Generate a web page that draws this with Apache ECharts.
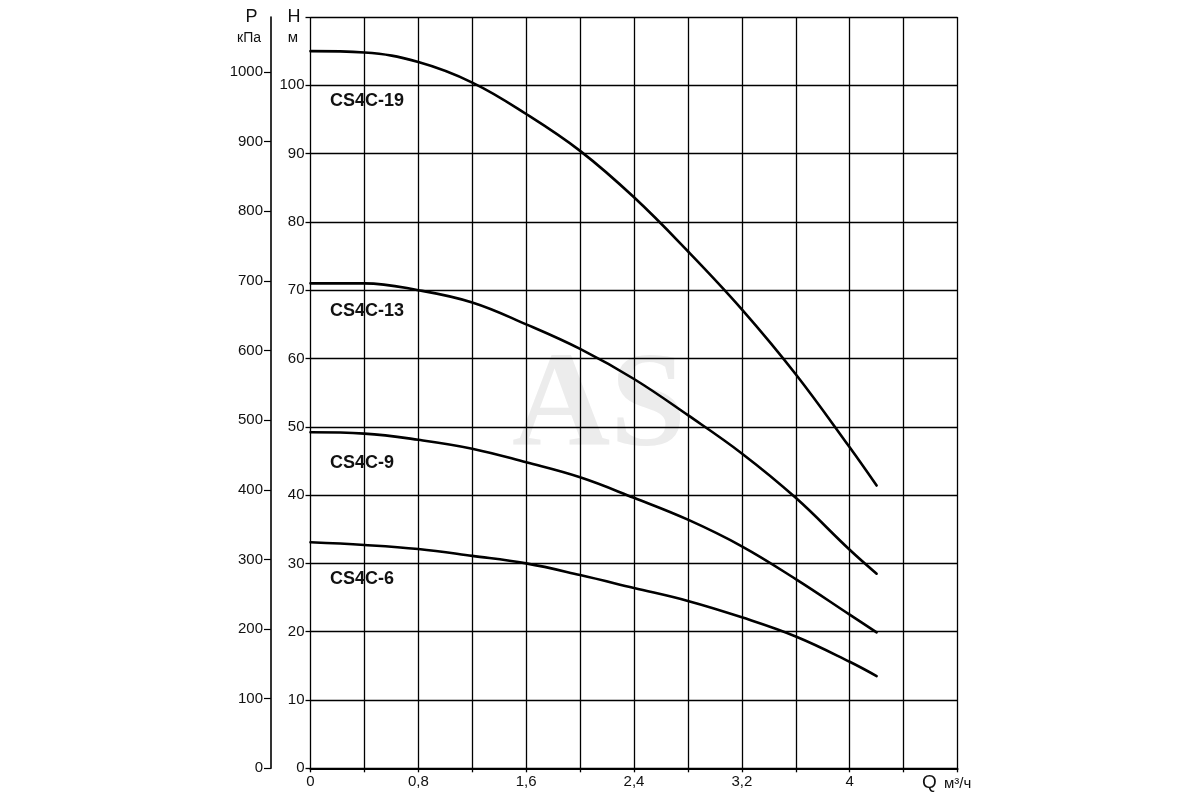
<!DOCTYPE html>
<html><head><meta charset="utf-8">
<script src="https://cdn.jsdelivr.net/npm/echarts@6/dist/echarts.min.js"></script>
<style>html,body{margin:0;padding:0;background:#fff}#c{width:1200px;height:800px}</style>
</head><body><div id="c"></div>
<script>
// Flow Q, m³/h
const flowQ = [0, 0.4, 0.8, 1.2, 1.6, 2.0, 2.4, 2.8, 3.2, 3.6, 4.0, 4.2];
// Head H, m
const headCS4C19 = [105.0, 104.8, 103.4, 100.4, 95.8, 90.4, 83.6, 75.7, 67.2, 57.7, 47.0, 41.4];
const headCS4C13 = [71.0, 71.0, 70.0, 68.2, 65.0, 61.4, 57.0, 51.7, 46.1, 39.6, 32.0, 28.5];
const headCS4C9  = [49.2, 49.0, 48.1, 46.8, 44.8, 42.6, 39.6, 36.4, 32.5, 27.7, 22.5, 19.9];
const headCS4C6  = [33.1, 32.7, 32.1, 31.1, 30.0, 28.3, 26.4, 24.5, 22.1, 19.3, 15.6, 13.5];
const seriesNames = ['CS4C-19', 'CS4C-13', 'CS4C-9', 'CS4C-6'];
const xTickLabels = [0, 0.8, 1.6, 2.4, 3.2, 4];
const pTickLabels = [0, 100, 200, 300, 400, 500, 600, 700, 800, 900, 1000];
const hTickLabels = [0, 10, 20, 30, 40, 50, 60, 70, 80, 90, 100];

const FONT = '"Liberation Sans", Arial, Helvetica, sans-serif';
const chart = echarts.init(document.getElementById('c'));
const heads = [headCS4C19, headCS4C13, headCS4C9, headCS4C6];

const option = {
  backgroundColor: '#fff',
  animation: false,
  grid: { left: 310.5, right: 242.5, top: 17, bottom: 31.7 },
  xAxis: {
    type: 'value', min: 0, max: 4.8, interval: 0.4,
    axisLine: { show: true, lineStyle: { color: '#000', width: 2.2 } },
    axisTick: { show: true, length: 4, lineStyle: { color: '#000', width: 1.3 } },
    axisLabel: {
      customValues: xTickLabels,
      formatter: v => String(v).replace('.', ','),
      color: '#111', fontFamily: FONT, fontSize: 15, margin: 6
    },
    splitLine: { show: true, lineStyle: { color: '#000', width: 1.3 } }
  },
  yAxis: [
    {
      type: 'value', min: 0, max: 110, interval: 10, position: 'left',
      axisLine: { show: false },
      axisTick: { show: true, length: 5, lineStyle: { color: '#000', width: 1.3 } },
      axisLabel: { customValues: hTickLabels, formatter: v => String(v), color: '#111', fontFamily: FONT, fontSize: 15, margin: 6 },
      splitLine: { show: true, lineStyle: { color: '#000', width: 1.3 } }
    },
    {
      type: 'value', min: 0, max: 1079.1, position: 'left', offset: 39.5,
      axisLine: { show: true, lineStyle: { color: '#000', width: 1.6 } },
      axisTick: { show: true, customValues: pTickLabels, length: 7, lineStyle: { color: '#000', width: 1.2 } },
      axisLabel: { customValues: pTickLabels, formatter: v => String(v), color: '#111', fontFamily: FONT, fontSize: 15, margin: 8 },
      splitLine: { show: false }
    }
  ],
  series: heads.map((h, i) => ({
    name: seriesNames[i], type: 'line', yAxisIndex: 0,
    data: flowQ.map((q, k) => [q, h[k]]),
    showSymbol: false, smooth: 0.4,
    lineStyle: { color: '#000', width: 2.6, cap: 'round' },
    z: 5
  }))
};
chart.setOption(option);

const labelAt = [[0.145, 97.7], [0.145, 66.9], [0.145, 44.7], [0.145, 27.7]];
const graphics = [
  { type: 'text', z: -10, left: 512, top: 342,
    style: { text: 'AS', font: 'bold 136px "Liberation Serif", "DejaVu Serif", serif', fill: '#ececec' } },
  { type: 'text', x: 251.5, y: 17.5, style: { text: 'P', font: '18px ' + FONT, fill: '#111', align: 'center', verticalAlign: 'middle' } },
  { type: 'text', x: 249, y: 38.5, style: { text: 'кПа', font: '14px ' + FONT, fill: '#111', align: 'center', verticalAlign: 'middle' } },
  { type: 'text', x: 294, y: 17.5, style: { text: 'H', font: '18px ' + FONT, fill: '#111', align: 'center', verticalAlign: 'middle' } },
  { type: 'text', x: 293, y: 37.5, style: { text: 'м', font: '15px ' + FONT, fill: '#111', align: 'center', verticalAlign: 'middle' } },
  { type: 'text', x: 922, y: 783, style: { text: 'Q', font: '19px ' + FONT, fill: '#111', align: 'left', verticalAlign: 'middle' } },
  { type: 'text', x: 944, y: 784, style: { text: 'м³/ч', font: '15px ' + FONT, fill: '#111', align: 'left', verticalAlign: 'middle' } }
];
seriesNames.forEach((n, i) => {
  const p = chart.convertToPixel({ xAxisIndex: 0, yAxisIndex: 0 }, labelAt[i]);
  graphics.push({ type: 'text', x: p[0], y: p[1],
    style: { text: n, font: 'bold 18px ' + FONT, fill: '#111', align: 'left', verticalAlign: 'middle' } });
});
chart.setOption({ graphic: graphics });
</script></body></html>
